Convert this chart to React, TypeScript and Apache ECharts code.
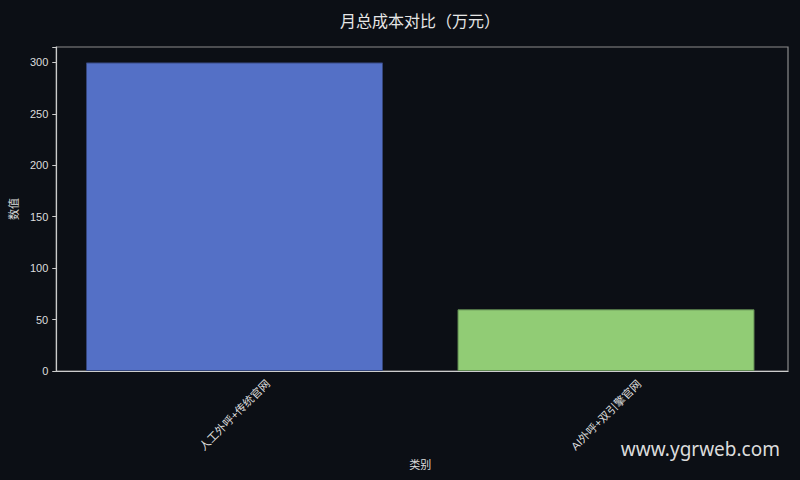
import React, { useEffect, useRef } from 'react';
import * as echarts from 'echarts';

// chart data
const categories = ['人工外呼+传统官网', 'AI外呼+双引擎官网'];
const costValues = [300, 60];
const barColors = ['#5470c6', '#91cc75'];
const barEdges = ['#34457a', '#5e8650'];
const yTicks = [0, 50, 100, 150, 200, 250, 300];

const FONT = '"Liberation Sans", "Noto Sans CJK SC", sans-serif';
const Y_MAX = 315;

const App: React.FC = () => {
  const chartRef = useRef<HTMLDivElement>(null);

  useEffect(() => {
    if (!chartRef.current) return;
    const chart = echarts.init(chartRef.current, undefined, { renderer: 'svg' });

    const option: echarts.EChartsOption = {
      animation: false,
      backgroundColor: '#0c0f15',
      // grid 0 holds the bars (category bands a bit wider than the frame, like matplotlib margins)
      // grid 1 is the visible frame with the y axis
      grid: [
        { left: 48.75, right: 8.25, top: 47, bottom: 109 },
        {
          left: 52.5,
          right: 12,
          top: 47,
          bottom: 109,
          show: true,
          borderColor: '#8c8c8c',
          borderWidth: 1.2,
          backgroundColor: 'transparent',
        },
      ],
      xAxis: [
        {
          type: 'category',
          gridIndex: 0,
          data: categories,
          name: '类别',
          nameLocation: 'middle',
          nameGap: 86,
          nameTextStyle: { color: '#dddddd', fontSize: 11, fontFamily: FONT },
          axisLine: { show: false },
          axisTick: { alignWithLabel: true, length: 4, lineStyle: { color: '#cccccc' } },
          axisLabel: {
            rotate: 45,
            align: 'center',
            verticalAlign: 'middle',
            color: '#dddddd',
            fontSize: 11,
            margin: 44,
            fontFamily: FONT,
          },
        },
        {
          type: 'value',
          gridIndex: 1,
          min: 0,
          max: 1,
          axisLine: { show: true, lineStyle: { color: '#cccccc', width: 1.2 } },
          axisTick: { show: false },
          axisLabel: { show: false },
          splitLine: { show: false },
        },
      ],
      yAxis: [
        {
          type: 'value',
          gridIndex: 0,
          min: 0,
          max: Y_MAX,
          show: false,
        },
        {
          type: 'value',
          gridIndex: 1,
          min: 0,
          max: Y_MAX,
          interval: 50,
          name: '数值',
          nameLocation: 'middle',
          nameGap: 36,
          nameTextStyle: { color: '#dddddd', fontSize: 11, fontFamily: FONT },
          splitLine: { show: false },
          axisLine: { show: true, lineStyle: { color: '#cccccc', width: 1.2 } },
          axisTick: { show: true, length: 4, lineStyle: { color: '#cccccc' } },
          axisLabel: {
            color: '#dddddd',
            fontSize: 11,
            margin: 8,
            fontFamily: FONT,
            formatter: (v: number) => (yTicks.includes(v) ? String(v) : ''),
          },
        },
      ],
      series: [
        {
          type: 'bar',
          xAxisIndex: 0,
          yAxisIndex: 0,
          barWidth: 297,
          data: costValues.map((v, i) => ({
            value: v,
            itemStyle: { color: barColors[i], borderColor: barEdges[i], borderWidth: 1 },
          })),
        },
      ],
      graphic: [
        {
          type: 'text',
          x: 420,
          y: 20,
          style: {
            text: '月总成本对比（万元）',
            fill: '#e6e6e6',
            fontSize: 16,
            fontFamily: '"Noto Sans CJK SC", sans-serif',
            textAlign: 'center',
            textVerticalAlign: 'middle',
          } as any,
        },
        {
          type: 'text',
          x: 780,
          y: 449,
          style: {
            text: 'www.ygrweb.com',
            fill: '#dcdcdc',
            fontSize: 19,
            fontFamily: '"Noto Sans", sans-serif',
            textAlign: 'right',
            textVerticalAlign: 'middle',
          } as any,
        },
      ],
    };

    chart.setOption(option);
    return () => {
      chart.dispose();
    };
  }, []);

  return (
    <div
      ref={chartRef}
      style={{ position: 'fixed', left: 0, top: 0, width: 800, height: 480 }}
    />
  );
};

export default App;
